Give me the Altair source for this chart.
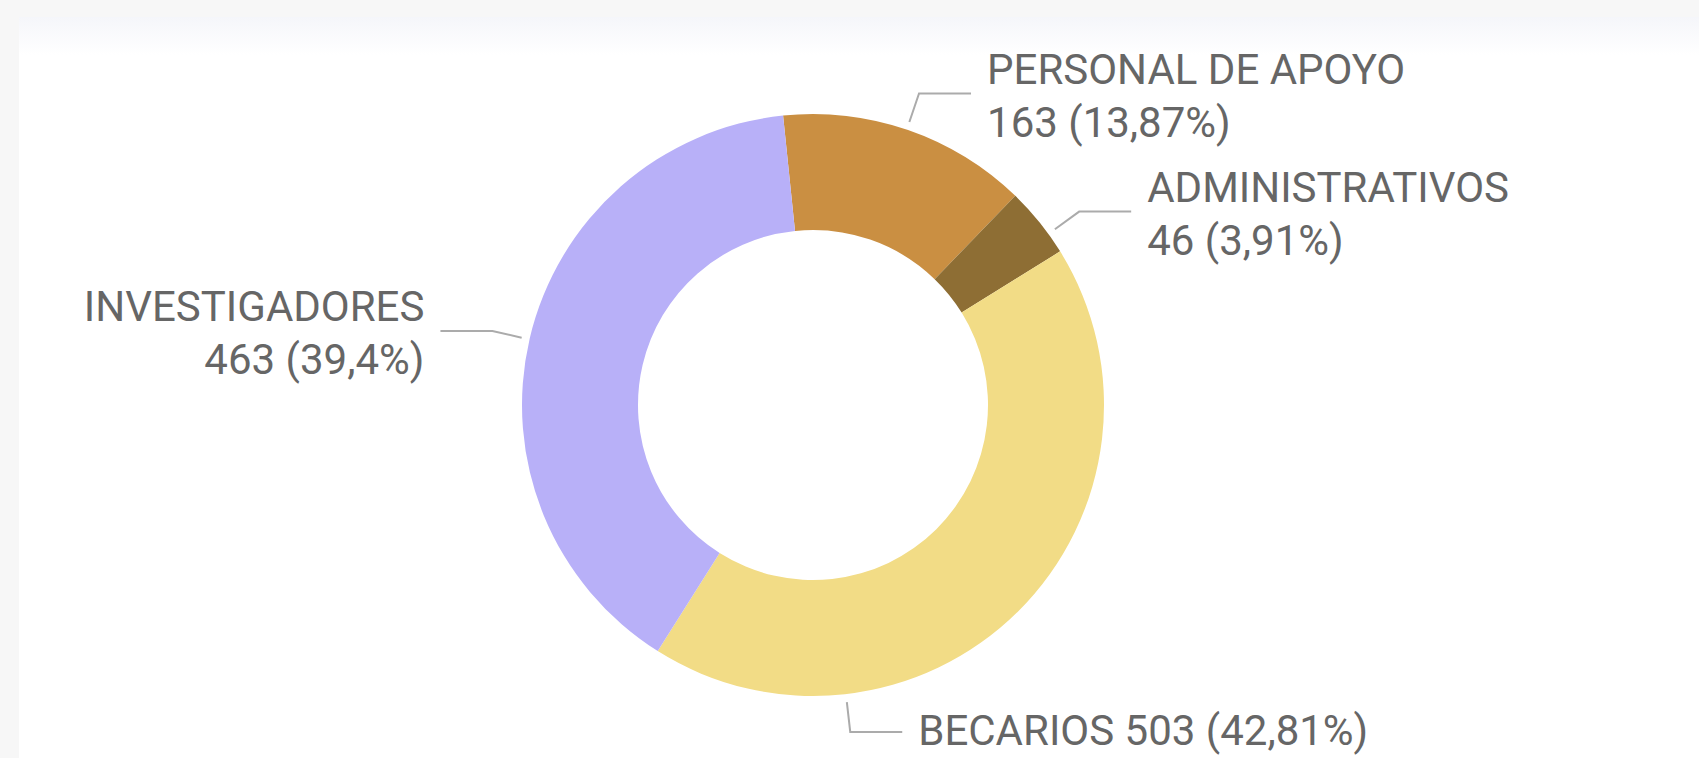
import math
import altair as alt
import pandas as pd

# ---- data ----
categories = ["PERSONAL DE APOYO", "ADMINISTRATIVOS", "BECARIOS", "INVESTIGADORES"]
counts = [163, 46, 503, 463]
colors = ["#CA8F42", "#8E6E34", "#F2DC86", "#B8B0F8"]

# ---- layout ----
W, H = 1699, 758
CX, CY = 813, 405
R_OUT, R_IN = 291, 175
START_DEG = -5.9
label_angles = [18.8, 54.0, 173.5, 283.0]   # where each leader leaves the ring
label_sides = ["right", "right", "right", "left"]
label_two_lines = [True, True, False, True]
R1, R2, HLEN, GAP = 299, 329, 52, 16
FONT = "Roboto"
FSIZE = 42
TEXT_COLOR = "#666666"
LEADER_COLOR = "#ababab"

total = sum(counts)


def fmt_pct(v):
    s = f"{v:.2f}".rstrip("0").rstrip(".")
    return s.replace(".", ",")


slices = pd.DataFrame({
    "category": categories,
    "count": counts,
    "idx": list(range(len(categories))),
})

seg_rows, txt_rows = [], []
for i, (cat, n) in enumerate(zip(categories, counts)):
    a = math.radians(label_angles[i])
    sx, sy = CX + R1 * math.sin(a), CY - R1 * math.cos(a)
    bx, by = CX + R2 * math.sin(a), CY - R2 * math.cos(a)
    d = 1 if label_sides[i] == "right" else -1
    ex, ey = bx + d * HLEN, by
    for k, (px, py) in enumerate([(sx, sy), (bx, by), (ex, ey)]):
        seg_rows.append({"label": cat, "k": k, "px": px, "py": py})
    tx = ex + d * GAP
    pct = fmt_pct(100 * n / total)
    if label_two_lines[i]:
        txt_rows.append({"t": cat, "tx": tx, "ty": ey - 10, "side": label_sides[i]})
        txt_rows.append({"t": f"{n} ({pct}%)", "tx": tx, "ty": ey + 43, "side": label_sides[i]})
    else:
        txt_rows.append({"t": f"{cat} {n} ({pct}%)", "tx": tx, "ty": ey + 13, "side": label_sides[i]})

segs = pd.DataFrame(seg_rows)
txts = pd.DataFrame(txt_rows)

xs = alt.Scale(domain=[0, W], range=[0, W])
ys = alt.Scale(domain=[0, H], range=[0, H])

panel = alt.Chart(pd.DataFrame({"a": [0]})).mark_rect(color="white").encode(
    x=alt.value(19), x2=alt.value(W), y=alt.value(17), y2=alt.value(H)
)
shade = alt.Chart(pd.DataFrame({"a": [0]})).mark_rect(
    color=alt.Gradient(
        gradient="linear", x1=0, y1=0, x2=0, y2=1,
        stops=[alt.GradientStop(color="#f5f6fa", offset=0),
               alt.GradientStop(color="#ffffff", offset=1)],
    )
).encode(x=alt.value(19), x2=alt.value(W), y=alt.value(17), y2=alt.value(55))

start = 2 * math.pi + math.radians(START_DEG)
donut = alt.Chart(slices).mark_arc(
    innerRadius=R_IN, outerRadius=R_OUT, x=CX, y=CY
).encode(
    theta=alt.Theta("count:Q", stack=True, scale=alt.Scale(range=[start, start + 2 * math.pi])),
    color=alt.Color("category:N", scale=alt.Scale(domain=categories, range=colors), legend=None),
    order=alt.Order("idx:Q"),
)

leaders = alt.Chart(segs).mark_line(color=LEADER_COLOR, strokeWidth=2).encode(
    x=alt.X("px:Q", scale=xs, axis=None),
    y=alt.Y("py:Q", scale=ys, axis=None),
    detail="label:N",
    order="k:Q",
)

def text_layer(side):
    return alt.Chart(txts).transform_filter(alt.datum.side == side).mark_text(
        align="left" if side == "right" else "right",
        baseline="alphabetic", font=FONT, fontSize=FSIZE, color=TEXT_COLOR
    ).encode(
        x=alt.X("tx:Q", scale=xs, axis=None),
        y=alt.Y("ty:Q", scale=ys, axis=None),
        text="t:N",
    )

chart = alt.layer(panel, shade, donut, leaders, text_layer("left"), text_layer("right")).properties(
    width=W, height=H, background="#f7f7f7", padding=0, autosize=alt.AutoSizeParams(type="none")
).configure_view(strokeWidth=0)

chart.save("out.html", embed_options={"renderer": "svg", "actions": False})
